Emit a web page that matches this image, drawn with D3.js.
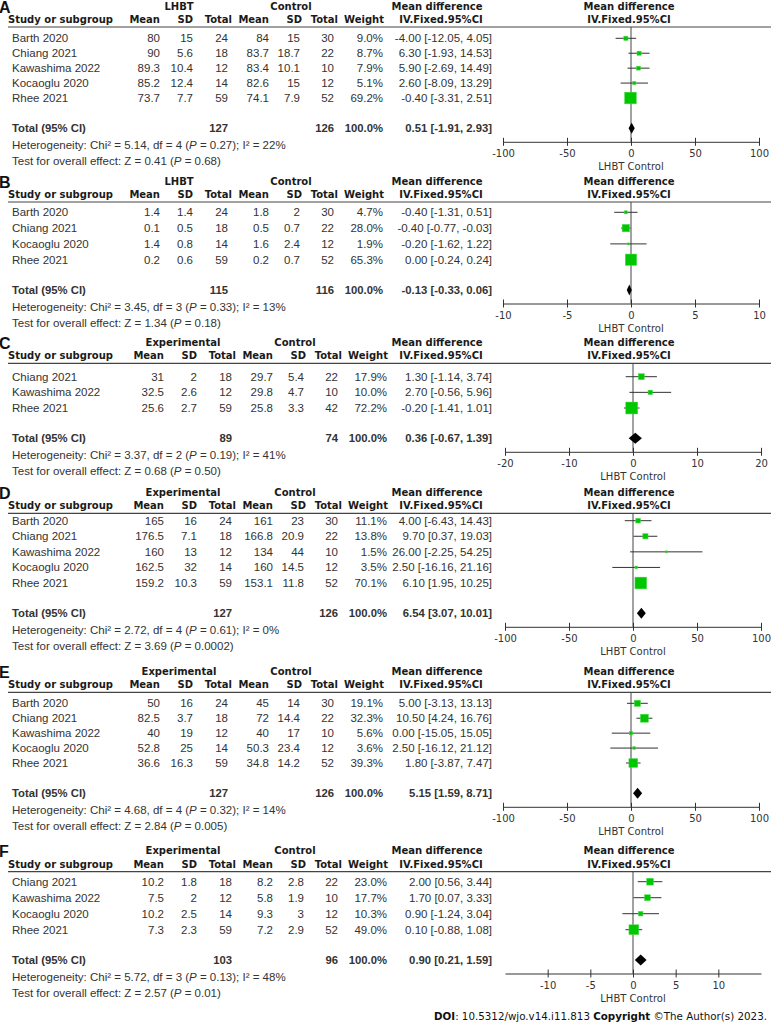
<!DOCTYPE html>
<html>
<head>
<meta charset="utf-8">
<script src="https://cdn.jsdelivr.net/npm/d3@7"></script>
<style>
body { margin: 0; background: #fff; }
.hdr { font-family: "DejaVu Sans", Verdana, sans-serif; font-weight: bold; font-size: 10px; fill: #1a1a1a; }
.body { font-family: "Liberation Sans", Arial, sans-serif; font-size: 11.5px; fill: #333; }
.tot { font-family: "Liberation Sans", Arial, sans-serif; font-size: 11.3px; font-weight: bold; fill: #333; }
.letter { font-family: "Liberation Sans", Arial, sans-serif; font-size: 16px; font-weight: bold; fill: #111; }
.tick { font-family: "DejaVu Sans", Verdana, sans-serif; font-size: 10px; fill: #333; }
.doi { font-family: "DejaVu Sans", Verdana, sans-serif; font-size: 10.3px; fill: #111; }
</style>
</head>
<body>
<div id="chart"></div>
<script>
// ---- data ----
const panelLetters = ["A", "B", "C", "D", "E", "F"];
const groupNames = ["LHBT", "LHBT", "Experimental", "Experimental", "Experimental", "Experimental"];
const colHeaders = ["Mean", "SD", "Total", "Mean", "SD", "Total", "Weight"];

// study, exp mean, exp sd, exp n, ctrl mean, ctrl sd, ctrl n, weight %, MD, lower, upper
const rowsA = [
  ["Barth 2020", 80, 15, 24, 84, 15, 30, 9.0, -4.00, -12.05, 4.05],
  ["Chiang 2021", 90, 5.6, 18, 83.7, 18.7, 22, 8.7, 6.30, -1.93, 14.53],
  ["Kawashima 2022", 89.3, 10.4, 12, 83.4, 10.1, 10, 7.9, 5.90, -2.69, 14.49],
  ["Kocaoglu 2020", 85.2, 12.4, 14, 82.6, 15, 12, 5.1, 2.60, -8.09, 13.29],
  ["Rhee 2021", 73.7, 7.7, 59, 74.1, 7.9, 52, 69.2, -0.40, -3.31, 2.51]
];
const rowsB = [
  ["Barth 2020", 1.4, 1.4, 24, 1.8, 2, 30, 4.7, -0.40, -1.31, 0.51],
  ["Chiang 2021", 0.1, 0.5, 18, 0.5, 0.7, 22, 28.0, -0.40, -0.77, -0.03],
  ["Kocaoglu 2020", 1.4, 0.8, 14, 1.6, 2.4, 12, 1.9, -0.20, -1.62, 1.22],
  ["Rhee 2021", 0.2, 0.6, 59, 0.2, 0.7, 52, 65.3, 0.00, -0.24, 0.24]
];
const rowsC = [
  ["Chiang 2021", 31, 2, 18, 29.7, 5.4, 22, 17.9, 1.30, -1.14, 3.74],
  ["Kawashima 2022", 32.5, 2.6, 12, 29.8, 4.7, 10, 10.0, 2.70, -0.56, 5.96],
  ["Rhee 2021", 25.6, 2.7, 59, 25.8, 3.3, 42, 72.2, -0.20, -1.41, 1.01]
];
const rowsD = [
  ["Barth 2020", 165, 16, 24, 161, 23, 30, 11.1, 4.00, -6.43, 14.43],
  ["Chiang 2021", 176.5, 7.1, 18, 166.8, 20.9, 22, 13.8, 9.70, 0.37, 19.03],
  ["Kawashima 2022", 160, 13, 12, 134, 44, 10, 1.5, 26.00, -2.25, 54.25],
  ["Kocaoglu 2020", 162.5, 32, 14, 160, 14.5, 12, 3.5, 2.50, -16.16, 21.16],
  ["Rhee 2021", 159.2, 10.3, 59, 153.1, 11.8, 52, 70.1, 6.10, 1.95, 10.25]
];
const rowsE = [
  ["Barth 2020", 50, 16, 24, 45, 14, 30, 19.1, 5.00, -3.13, 13.13],
  ["Chiang 2021", 82.5, 3.7, 18, 72, 14.4, 22, 32.3, 10.50, 4.24, 16.76],
  ["Kawashima 2022", 40, 19, 12, 40, 17, 10, 5.6, 0.00, -15.05, 15.05],
  ["Kocaoglu 2020", 52.8, 25, 14, 50.3, 23.4, 12, 3.6, 2.50, -16.12, 21.12],
  ["Rhee 2021", 36.6, 16.3, 59, 34.8, 14.2, 52, 39.3, 1.80, -3.87, 7.47]
];
const rowsF = [
  ["Chiang 2021", 10.2, 1.8, 18, 8.2, 2.8, 22, 23.0, 2.00, 0.56, 3.44],
  ["Kawashima 2022", 7.5, 2, 12, 5.8, 1.9, 10, 17.7, 1.70, 0.07, 3.33],
  ["Kocaoglu 2020", 10.2, 2.5, 14, 9.3, 3, 12, 10.3, 0.90, -1.24, 3.04],
  ["Rhee 2021", 7.3, 2.3, 59, 7.2, 2.9, 52, 49.0, 0.10, -0.88, 1.08]
];

// exp n, ctrl n, MD, lower, upper
const totals = [
  [127, 126, 0.51, -1.91, 2.93],
  [115, 116, -0.13, -0.33, 0.06],
  [89, 74, 0.36, -0.67, 1.39],
  [127, 126, 6.54, 3.07, 10.01],
  [127, 126, 5.15, 1.59, 8.71],
  [103, 96, 0.90, 0.21, 1.59]
];
const chiSq = ["5.14", "3.45", "3.37", "2.72", "4.68", "5.72"];
const dfs = [4, 3, 2, 4, 4, 3];
const hetP = ["0.27", "0.33", "0.19", "0.61", "0.32", "0.13"];
const iSq = [22, 13, 41, 0, 14, 48];
const zVals = ["0.41", "1.34", "0.68", "3.69", "2.84", "2.57"];
const zP = ["0.68", "0.18", "0.50", "0.0002", "0.005", "0.01"];
const axisMax = [100, 10, 20, 100, 100, 15];
const axisTicks = [
  [-100, -50, 0, 50, 100],
  [-10, -5, 0, 5, 10],
  [-20, -10, 0, 10, 20],
  [-100, -50, 0, 50, 100],
  [-100, -50, 0, 50, 100],
  [-10, -5, 0, 5, 10]
];

// ---- layout ----
const ruleYs = [27, 202, 363.3, 513.3, 692.3, 871.7];
const firstRowYs = [38.3, 212.3, 376.7, 520.7, 703.3, 881.7];
const totalYs = [128.3, 290, 438.3, 613.3, 793.3, 960];
const colShift = [0, 0, 4, 4, 0, 4];
const headerX = [160, 193, 232, 269, 302, 338, 384];
const valueX = [160, 193, 228, 269, 300, 334, 383];
const ciRight = 492;
const green = "#00c800";

const allRows = [rowsA, rowsB, rowsC, rowsD, rowsE, rowsF];

const svg = d3.select("#chart").append("svg")
  .attr("width", 771)
  .attr("height", 1025)
  .style("background", "#fff");

const boxSize = d3.scaleSqrt().domain([0, 100]).range([0, 14]);

function label(g, x, y, s, anchor, cls) {
  return g.append("text")
    .attr("x", x).attr("y", y).attr("dy", "0.35em")
    .attr("text-anchor", anchor).attr("class", cls)
    .text(s);
}

function ciText(md, lo, hi) {
  return md.toFixed(2) + " [" + lo.toFixed(2) + ", " + hi.toFixed(2) + "]";
}

panelLetters.forEach((letter, i) => {
  const g = svg.append("g");
  const s = colShift[i];
  const rows = allRows[i];
  const tot = totals[i];
  const ruleY = ruleYs[i];
  const totalY = totalYs[i];
  const step = (totalY - 30.3 - firstRowYs[i]) / (rows.length - 1);
  const rowY = k => firstRowYs[i] + k * step;
  const axisY = totalY + 13.5;

  const x = d3.scaleLinear()
    .domain([-axisMax[i], axisMax[i]])
    .range([503 + s / 2, 759 + s / 2]);

  // headers
  label(g, -1, ruleY - 20, letter, "start", "letter");
  label(g, 179 + s, ruleY - 21, groupNames[i], "middle", "hdr");
  label(g, 291 + s, ruleY - 21, "Control", "middle", "hdr");
  label(g, 437, ruleY - 21, "Mean difference", "middle", "hdr");
  label(g, 629, ruleY - 21, "Mean difference", "middle", "hdr");
  label(g, 8, ruleY - 7.5, "Study or subgroup", "start", "hdr");
  colHeaders.forEach((h, j) => label(g, headerX[j] + s, ruleY - 7.5, h, "end", "hdr"));
  label(g, 441, ruleY - 7.5, "IV.Fixed.95%CI", "middle", "hdr");
  label(g, 629, ruleY - 7.5, "IV.Fixed.95%CI", "middle", "hdr");

  g.append("line")
    .attr("x1", 8).attr("x2", 771)
    .attr("y1", ruleY).attr("y2", ruleY)
    .attr("stroke", "#444").attr("stroke-width", 1.2);

  // zero line
  g.append("line")
    .attr("x1", x(0)).attr("x2", x(0))
    .attr("y1", ruleY).attr("y2", axisY)
    .attr("stroke", "#444").attr("stroke-width", 1);

  // study rows
  rows.forEach((r, k) => {
    const y = rowY(k);
    label(g, 12, y, r[0], "start", "body");
    for (let j = 1; j <= 6; j++) {
      label(g, valueX[j - 1] + s, y, String(r[j]), "end", "body");
    }
    label(g, valueX[6] + s, y, r[7].toFixed(1) + "%", "end", "body");
    label(g, ciRight, y, ciText(r[8], r[9], r[10]), "end", "body");
  });

  // CI lines and boxes
  g.selectAll(".ci")
    .data(rows)
    .enter()
    .append("line")
    .attr("x1", d => x(d[9]))
    .attr("x2", d => x(d[10]))
    .attr("y1", (d, k) => rowY(k))
    .attr("y2", (d, k) => rowY(k))
    .attr("stroke", "#333")
    .attr("stroke-width", 1);

  g.selectAll(".box")
    .data(rows)
    .enter()
    .append("rect")
    .attr("x", d => x(d[8]) - Math.max(2, boxSize(d[7])) / 2)
    .attr("y", (d, k) => rowY(k) - Math.max(2, boxSize(d[7])) / 2)
    .attr("width", d => Math.max(2, boxSize(d[7])))
    .attr("height", d => Math.max(2, boxSize(d[7])))
    .attr("fill", green)
    .attr("stroke", "#4fd84f")
    .attr("stroke-width", 0.5);

  // total row
  label(g, 12, totalY, "Total (95% CI)", "start", "tot");
  label(g, valueX[2] + s, totalY, String(tot[0]), "end", "tot");
  label(g, valueX[5] + s, totalY, String(tot[1]), "end", "tot");
  label(g, valueX[6] + s, totalY, "100.0%", "end", "tot");
  label(g, ciRight, totalY, ciText(tot[2], tot[3], tot[4]), "end", "tot");

  const dh = 5.5;
  g.append("path")
    .attr("d", "M" + x(tot[3]) + "," + totalY +
      "L" + x(tot[2]) + "," + (totalY - dh) +
      "L" + x(tot[4]) + "," + totalY +
      "L" + x(tot[2]) + "," + (totalY + dh) + "Z")
    .attr("fill", "#000");

  // heterogeneity and overall effect
  const het = label(g, 12, totalY + 17, "", "start", "body");
  het.append("tspan").text("Heterogeneity: Chi² = " + chiSq[i] + ", df = " + dfs[i] + " (");
  het.append("tspan").attr("font-style", "italic").text("P");
  het.append("tspan").text(" = " + hetP[i] + "); I² = " + iSq[i] + "%");

  const zt = label(g, 12, totalY + 33, "", "start", "body");
  zt.append("tspan").text("Test for overall effect: Z = " + zVals[i] + " (");
  zt.append("tspan").attr("font-style", "italic").text("P");
  zt.append("tspan").text(" = " + zP[i] + ")");

  // axis
  const ax = g.append("g")
    .attr("transform", "translate(0," + axisY + ")")
    .call(d3.axisBottom(x)
      .tickValues(axisTicks[i])
      .tickFormat(d => String(d))
      .tickSize(4).tickSizeOuter(0).tickPadding(4));
  ax.select(".domain").attr("stroke", "#333");
  ax.selectAll(".tick line").attr("y1", -4).attr("y2", 4).attr("stroke", "#333");
  ax.selectAll(".tick text").attr("class", "tick").attr("fill", null);
  ax.attr("font-family", null).attr("font-size", null);

  label(g, x(0), axisY + 24.5, "LHBT Control", "middle", "tick");
});

// footer
const doi = svg.append("text")
  .attr("x", 767).attr("y", 1016).attr("dy", "0.35em")
  .attr("text-anchor", "end")
  .attr("class", "doi");
doi.append("tspan").attr("font-weight", "bold").text("DOI");
doi.append("tspan").text(": 10.5312/wjo.v14.i11.813 ");
doi.append("tspan").attr("font-weight", "bold").text("Copyright");
doi.append("tspan").text(" ©The Author(s) 2023.");
</script>
</body>
</html>
